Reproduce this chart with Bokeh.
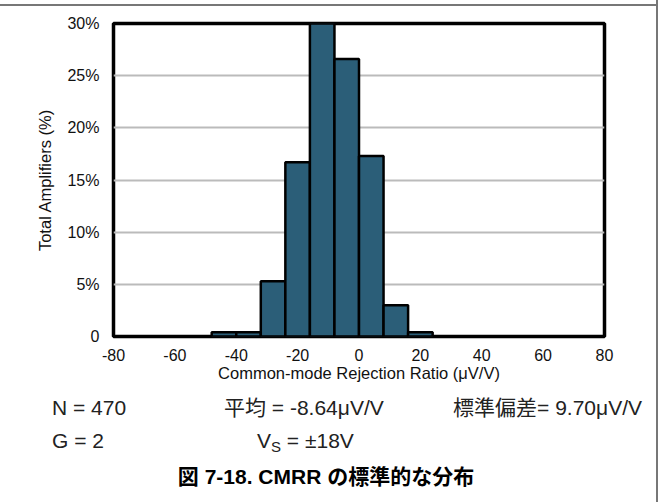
from bokeh.plotting import figure
from bokeh.models import FixedTicker, Div
from bokeh.layouts import column
from bokeh.embed import file_html
from bokeh.resources import INLINE

# Data
bin_left = [-48, -40, -32, -24, -16, -8, 0, 8, 16]
bin_right = [-40, -32, -24, -16, -8, 0, 8, 16, 24]
percent = [0.4, 0.4, 5.3, 16.7, 30.0, 26.6, 17.3, 3.0, 0.4]
x_ticks = [-80, -60, -40, -20, 0, 20, 40, 60, 80]
x_tick_labels = ["-80", "-60", "-40", "-20", "0", "20", "40", "60", "80"]
y_ticks = [0, 5, 10, 15, 20, 25, 30]
y_tick_labels = ["0", "5%", "10%", "15%", "20%", "25%", "30%"]
stats_row1 = ["N = 470", "\u5e73\u5747 = -8.64\u03bcV/V", "\u6a19\u6e96\u504f\u5dee= 9.70\u03bcV/V"]
stats_row2 = ["G = 2", "V<sub style=\"font-size:15px;vertical-align:-4px;\">S</sub> = \u00b118V"]
caption = "\u56f3 7-18. CMRR \u306e\u6a19\u6e96\u7684\u306a\u5206\u5e03"

FONT = "Liberation Sans"
CJK = "'Liberation Sans', 'Noto Sans CJK JP', sans-serif"

TOP_H = 390
p = figure(width=665, height=TOP_H, x_range=(-80, 80), y_range=(0, 30),
           output_backend="svg", toolbar_location=None,
           min_border_left=113, min_border_right=61,
           min_border_top=23, min_border_bottom=TOP_H - 336)

p.quad(left=bin_left, right=bin_right, top=percent, bottom=0,
       fill_color="#2B5E78", line_color="black", line_width=2.5)

p.outline_line_color = "black"
p.outline_line_width = 3.5
p.background_fill_color = "white"
p.border_fill_color = "white"

p.xgrid.visible = False
p.ygrid.ticker = FixedTicker(ticks=[5, 10, 15, 20, 25])
p.ygrid.grid_line_color = "#bbbbbb"
p.ygrid.grid_line_width = 2

p.xaxis.ticker = FixedTicker(ticks=x_ticks)
p.yaxis.ticker = FixedTicker(ticks=y_ticks)
p.xaxis.major_label_overrides = {t: l for t, l in zip(x_ticks, x_tick_labels)}
p.yaxis.major_label_overrides = {t: l for t, l in zip(y_ticks, y_tick_labels)}
for ax in (p.xaxis, p.yaxis):
    ax.axis_line_color = None
    ax.major_tick_line_color = None
    ax.minor_tick_line_color = None
    ax.major_label_text_font = FONT
    ax.major_label_text_font_size = "16px"
    ax.major_label_text_color = "#111111"
    ax.axis_label_text_font = FONT
    ax.axis_label_text_font_size = "16.5px"
    ax.axis_label_text_font_style = "normal"
    ax.axis_label_text_color = "#111111"
p.xaxis.axis_label = "Common-mode Rejection Ratio (\u03bcV/V)"
p.yaxis.axis_label = "Total Amplifiers (%)"
p.xaxis.major_label_standoff = 6
p.xaxis.axis_label_standoff = 0
p.yaxis.major_label_standoff = 8
p.yaxis.axis_label_standoff = 10


def box(txt, left, cy, size=21, color="#222222", weight="normal", align="left"):
    top = cy - TOP_H - size * 0.6
    if align == "left":
        pos = f"left:{left}px;"
    elif align == "right":
        pos = f"right:{665 - left}px;text-align:right;"
    else:
        pos = f"left:{left - 200}px;width:400px;text-align:center;"
    return (f"<div style=\"position:absolute;{pos}top:{top}px;font-size:{size}px;"
            f"line-height:{size * 1.2}px;color:{color};font-weight:{weight};"
            f"white-space:nowrap;font-family:{CJK};\">{txt}</div>")


html = (
    "<div style=\"position:absolute;left:0;top:0;width:665px;height:112px;\">"
    + box(stats_row1[0], 52, 408)
    + box(stats_row1[1], 224, 408)
    + box(stats_row1[2], 642, 408, align="right")
    + box(stats_row2[0], 52, 441)
    + box(stats_row2[1], 257, 441)
    + box(caption, 326, 477, size=21, color="black", weight="bold", align="center")
    + f"<div style=\"position:absolute;left:0;top:{4 - TOP_H}px;width:657px;height:2px;background:#777;\"></div>"
    + f"<div style=\"position:absolute;left:656px;top:{-TOP_H}px;width:2px;height:502px;background:#777;\"></div>"
    + "</div>"
)
div = Div(text=html, width=665, height=502 - TOP_H,
          styles={"overflow": "visible", "padding": "0", "margin": "0"})

layout = column(p, div, spacing=0)
open("out.html", "w").write(file_html(layout, INLINE))
